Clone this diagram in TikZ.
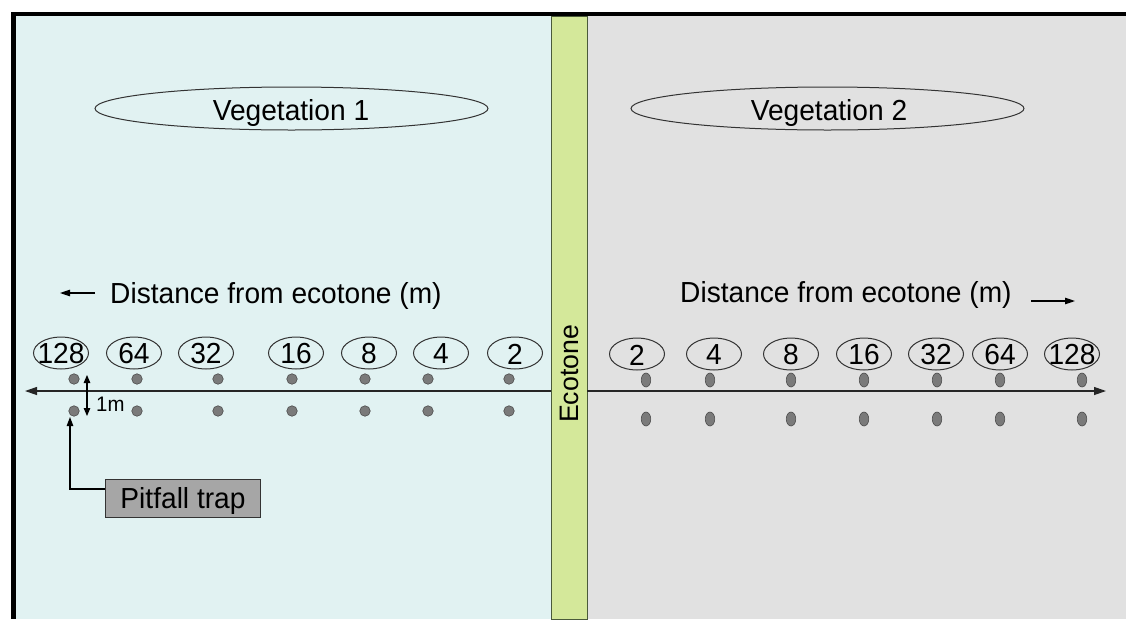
\documentclass[tikz,border=0pt]{standalone}
\usepackage{fontspec}
\setmainfont[FakeStretch=0.97]{Liberation Sans}
\newfontfamily\plainsans{Liberation Sans}
\usetikzlibrary{shapes.geometric,arrows.meta}
\definecolor{vegA}{HTML}{E1F2F2}
\definecolor{vegB}{HTML}{E1E1E1}
\definecolor{eco}{HTML}{D4E89A}
\definecolor{ecoEdge}{HTML}{4A5A3A}
\definecolor{dotFill}{HTML}{7A7A7A}
\definecolor{dotEdge}{HTML}{4D4D4D}
\definecolor{trapFill}{HTML}{A6A6A6}
\begin{document}
\begin{tikzpicture}[x=1pt,y=-1pt,
  font=\fontsize{29}{32}\selectfont,
  numell/.style={ellipse, draw=black!80, line width=1pt, minimum width=55pt, minimum height=32pt, inner sep=0pt},
  numtxt/.style={inner sep=0pt},
  vegell/.style={ellipse, draw=black!80, line width=1pt, minimum width=393pt, minimum height=43pt, inner sep=0pt},
  dotL/.style={circle, fill=dotFill, draw=dotEdge, line width=0.6pt, minimum size=10.5pt, inner sep=0pt},
  dotR/.style={ellipse, fill=dotFill, draw=dotEdge, line width=0.6pt, minimum width=9.5pt, minimum height=14pt, inner sep=0pt},
  axis/.style={line width=1.2pt, draw=black!85, -{Triangle[length=12pt,width=8pt]}},
  smallarrow/.style={line width=1.1pt, draw=black, -{Triangle[length=9pt,width=6.5pt]}},
  dirarrow/.style={line width=1.1pt, draw=black, -{Triangle[length=10pt,width=6.5pt]}}
]
\useasboundingbox (0,0) rectangle (1126,619);
% panels
\fill[white] (0,0) rectangle (1126,619);
\fill[vegA] (16,16) rectangle (551,619);
\fill[vegB] (587,16) rectangle (1126,619);
\fill[eco, draw=ecoEdge, line width=0.8pt] (551,16) rectangle (587,619);
% frame
\fill[black] (11,12) rectangle (1126,16);
\fill[black] (11,12) rectangle (16,619);

% vegetation labels
\node[vegell] (veg1) at (291.5,108.5) {};
\node[numtxt, anchor=base] (veg1t) at (291,120) {Vegetation 1};
\node[vegell] (veg2) at (827.5,108.5) {};
\node[numtxt, anchor=base] (veg2t) at (829,120) {Vegetation 2};

% ecotone label
\node[rotate=90, inner sep=0pt, font=\plainsans\fontsize{26.7}{30}\selectfont] (ecot) at (569,374) {Ecotone};

% distance labels
\node[numtxt, anchor=base west] (distL) at (110,303) {Distance from ecotone (m)};
\coordinate (dLa) at (95,293);
\coordinate (dLb) at (60,293);
\draw[dirarrow] (dLa) -- (dLb);
\node[numtxt, anchor=base west] (distR) at (680,302) {Distance from ecotone (m)};
\coordinate (dRa) at (1031,301);
\coordinate (dRb) at (1075,301);
\draw[dirarrow] (dRa) -- (dRb);

% axis
\coordinate (axL0) at (551,391);
\coordinate (axL1) at (25,391);
\coordinate (axR0) at (587,391);
\coordinate (axR1) at (1106,391);
\draw[axis] (axL0) -- (axL1);
\draw[axis] (axR0) -- (axR1);

% left number ellipses
\foreach \n/\ex in {128/61, 64/134, 32/206, 16/296, 8/369, 4/441, 2/515}{
  \node[numell] (Le\n) at (\ex,353) {};
  \node[numtxt] (Lt\n) at (\ex,354) {\n};
}
% right number ellipses
\foreach \n/\ex in {2/637, 4/714, 8/791, 16/864, 32/936, 64/1000, 128/1072}{
  \node[numell] (Re\n) at (\ex,354) {};
  \node[numtxt] (Rt\n) at (\ex,355) {\n};
}
% left dots
\foreach \n/\dx in {128/74, 64/137, 32/218, 16/292, 8/365, 4/428, 2/509}{
  \node[dotL] (La\n) at (\dx,379) {};
  \node[dotL] (Lb\n) at (\dx,411) {};
}
% right dots
\foreach \n/\dx in {2/646, 4/710, 8/791, 16/864, 32/937, 64/1000, 128/1082}{
  \node[dotR] (Ra\n) at (\dx,380) {};
  \node[dotR] (Rb\n) at (\dx,419) {};
}

% 1 m spacing
\coordinate (mTop) at (87,375);
\coordinate (mBot) at (87,416);
\draw[line width=1.1pt, {Triangle[length=8pt,width=6.5pt]}-{Triangle[length=8pt,width=6.5pt]}] (mTop) -- (mBot);
\node[numtxt, font=\fontsize{21}{24}\selectfont, anchor=base west] (onem) at (96,411) {1m};

% pitfall trap
\node[draw=black!80, fill=trapFill, line width=1pt, minimum width=155pt, minimum height=38pt, inner sep=0pt] (trap) at (182.5,498) {};
\node[numtxt, anchor=base] (trapt) at (183,508) {Pitfall trap};
\coordinate (trapBend) at (70,489);
\draw[smallarrow] (trap.west |- trapBend) -- (trapBend) -- (70,417);
\end{tikzpicture}
\end{document}
